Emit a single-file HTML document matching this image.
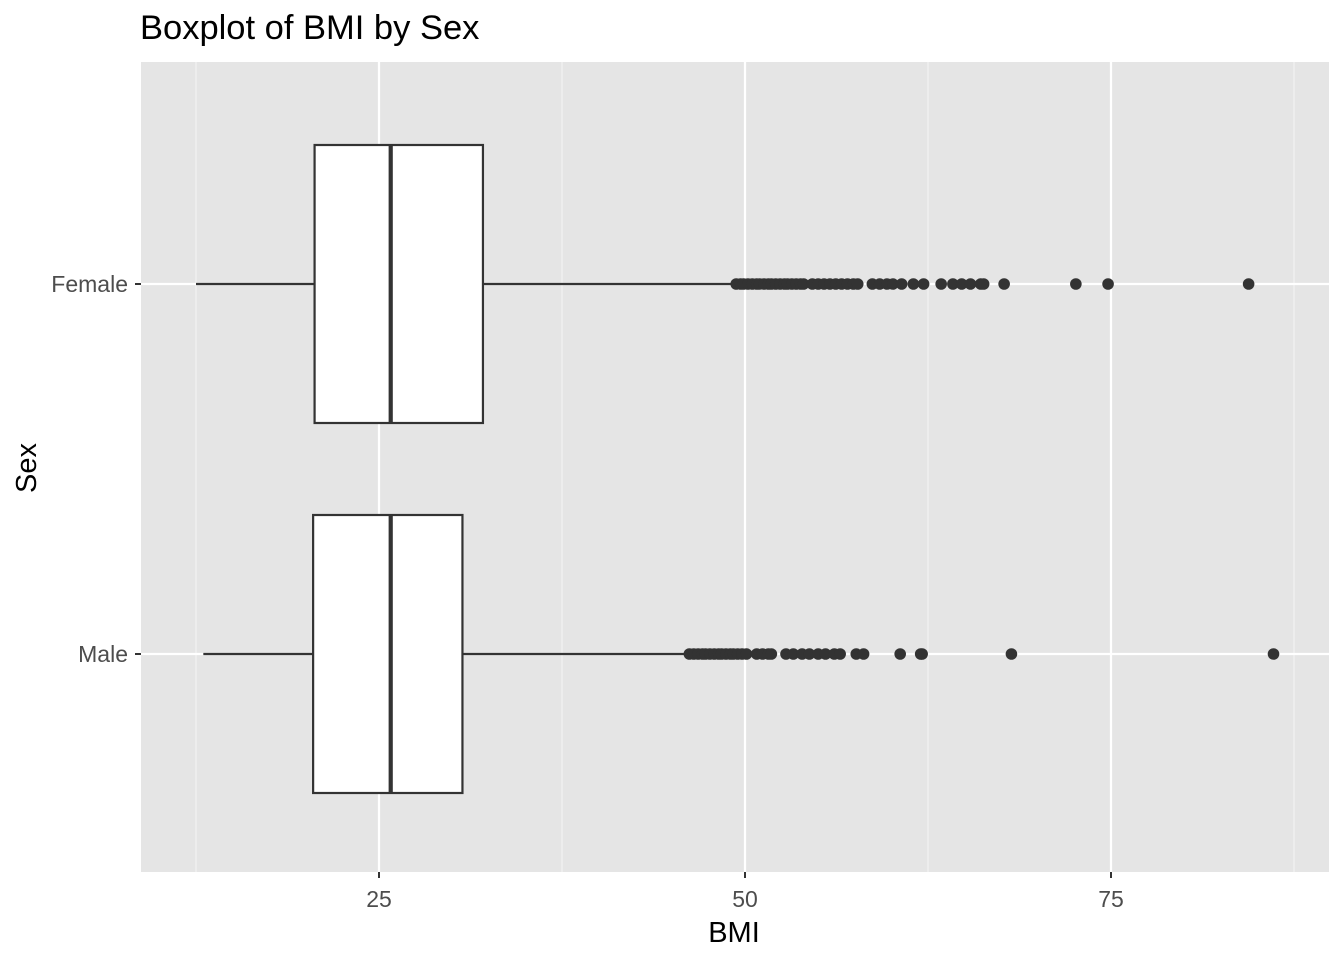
<!DOCTYPE html>
<html><head><meta charset="utf-8"><style>
body{margin:0;background:#fff;font-family:"Liberation Sans",Arial,sans-serif}
</style></head><body>
<svg width="1344" height="960" xmlns="http://www.w3.org/2000/svg">
<text x="140" y="39" font-size="34.5" fill="#000">Boxplot of BMI by Sex</text>
<rect x="141" y="62" width="1188" height="810" fill="#e5e5e5"/>
<g id="grid"></g>
<g id="marks"></g>
<g id="axes"></g>
<text x="734" y="942" font-size="29" text-anchor="middle" fill="#000">BMI</text>
<text transform="translate(36,468) rotate(-90)" font-size="29" text-anchor="middle" fill="#000">Sex</text>
</svg>
<script>
const categories = ["Female","Male"];
const whiskerLow = [12.5, 13.0];
const q1 = [20.6, 20.5];
const median = [25.8, 25.8];
const q3 = [32.1, 30.7];
const whiskerHigh = [49.3, 46.1];
const outliersFemale = [49.4,49.7,49.9,50.2,50.5,50.8,51.0,51.3,51.6,51.8,52.1,52.4,52.7,52.9,53.2,53.5,53.8,54.0,54.6,55.0,55.4,55.8,56.2,56.6,57.0,57.4,57.7,58.7,59.2,59.7,60.1,60.7,61.5,62.2,63.4,64.2,64.8,65.4,66.1,66.3,67.7,72.6,74.8,84.4];
const outliersMale = [46.2,46.5,46.8,47.1,47.3,47.6,47.9,48.2,48.4,48.7,49.0,49.2,49.5,49.8,50.1,50.8,51.2,51.6,51.8,52.8,53.3,53.9,54.4,55.0,55.5,56.1,56.5,57.6,58.1,60.6,62.0,62.1,68.2,86.1];
const xMajorTicks = [25, 50, 75];
const xMinorTicks = [12.5, 37.5, 62.5, 87.5];

const NS = "http://www.w3.org/2000/svg";
const X = v => 379 + (v - 25) * 14.64;
const Y = i => [284, 654][i];
const halfH = 139;
function mk(tag, attrs, parent){const e=document.createElementNS(NS,tag);for(const k in attrs)e.setAttribute(k,attrs[k]);document.getElementById(parent).appendChild(e);return e;}

xMinorTicks.forEach(t=>{
  const l=mk("line",{x1:X(t),x2:X(t),y1:62,y2:872,stroke:"#f2f2f2","stroke-width":1.2},"grid");
  
  
});
xMajorTicks.forEach(t=>{
  const l=mk("line",{x1:X(t),x2:X(t),y1:62,y2:872,stroke:"#fff","stroke-width":2.2},"grid");
  
  
  const tk=mk("line",{x1:X(t),x2:X(t),y1:872,y2:878,stroke:"#333","stroke-width":2},"axes");
  
  
  const tx=mk("text",{x:X(t),y:907,"font-size":23,"text-anchor":"middle",fill:"#4d4d4d"},"axes");
  tx.textContent=t;
  
  
});
categories.forEach((c,i)=>{
  const y=Y(i);
  const g=mk("line",{x1:141,x2:1329,y1:y,y2:y,stroke:"#fff","stroke-width":2.2},"grid");
  
  
  const tk=mk("line",{x1:135,x2:141,y1:y,y2:y,stroke:"#333","stroke-width":2},"axes");
  
  
  const tx=mk("text",{x:128,y:y+8,"font-size":23,"text-anchor":"end",fill:"#4d4d4d"},"axes");
  tx.textContent=c;
  
  
  const w1=mk("line",{x1:X(whiskerLow[i]),x2:X(q1[i]),y1:y,y2:y,stroke:"#333","stroke-width":2.2},"marks");
  
  
  const w2=mk("line",{x1:X(q3[i]),x2:X(whiskerHigh[i]),y1:y,y2:y,stroke:"#333","stroke-width":2.2},"marks");
  
  
  const b=mk("rect",{x:X(q1[i]),y:y-halfH,width:X(q3[i])-X(q1[i]),height:2*halfH,fill:"#fff",stroke:"#333","stroke-width":2.2},"marks");
  
  
  const m=mk("line",{x1:X(median[i]),x2:X(median[i]),y1:y-halfH,y2:y+halfH,stroke:"#333","stroke-width":4.2},"marks");
  
  
  const outs = i===0 ? outliersFemale : outliersMale;
  outs.forEach(v=>{
    const p=mk("circle",{cx:X(v),cy:y,r:5.8,fill:"#333"},"marks");
    
    
  });
});
</script>
</body></html>
